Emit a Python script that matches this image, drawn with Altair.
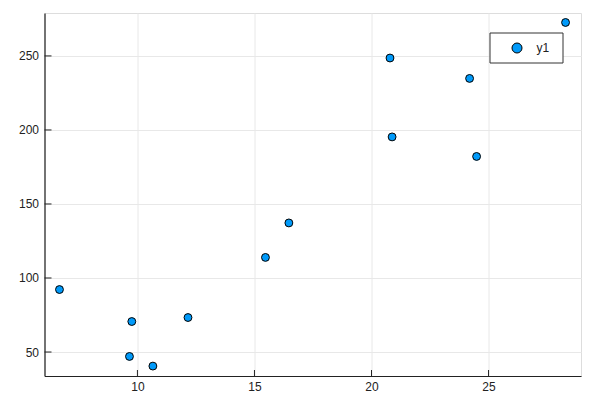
import altair as alt
import pandas as pd

xs = [6.67, 9.76, 9.66, 10.66, 12.16, 15.47, 16.47, 20.79, 20.88, 24.19, 24.49, 28.29]
ys = [92.2, 70.6, 47.0, 40.5, 73.3, 113.9, 137.2, 248.6, 195.3, 234.8, 182.1, 272.6]
series = ["y1"] * len(xs)
x_ticks = [10, 15, 20, 25]
y_ticks = [50, 100, 150, 200, 250]

W, H = 536.5, 363
XD = [6.03, 28.95]
YD = [33.8, 279.0]
FONT = "Liberation Sans"
BLUE = "#009AFA"

df = pd.DataFrame({"x": xs, "y": ys, "s": series})
xt = pd.DataFrame({"v": x_ticks})
yt = pd.DataFrame({"v": y_ticks})
leg = pd.DataFrame({"s": ["y1"]})

xscale = alt.Scale(domain=XD, zero=False, nice=False)
yscale = alt.Scale(domain=YD, zero=False, nice=False)

xaxis = alt.Axis(values=x_ticks, title=None, grid=True, gridColor="#e8e8e8", gridWidth=1,
                 domainColor="#222222", domainWidth=1.2, tickSize=0, labelPadding=5,
                 labelFont=FONT, labelFontSize=12, labelColor="#222222")
yaxis = alt.Axis(values=y_ticks, title=None, grid=True, gridColor="#e8e8e8", gridWidth=1,
                 domainColor="#222222", domainWidth=1.2, tickSize=0, labelPadding=6,
                 labelFont=FONT, labelFontSize=12, labelColor="#222222")

pts = alt.Chart(df).mark_point(filled=True, fill=BLUE, stroke="black", strokeWidth=1,
                               size=62, opacity=1).encode(
    x=alt.X("x:Q", scale=xscale, axis=xaxis),
    y=alt.Y("y:Q", scale=yscale, axis=yaxis),
)

xtick = alt.Chart(xt).mark_rule(color="#222222", strokeWidth=1).encode(
    x=alt.X("v:Q", scale=xscale),
    y=alt.value(H), y2=alt.value(H - 6),
)
ytick = alt.Chart(yt).mark_rule(color="#222222", strokeWidth=1).encode(
    y=alt.Y("v:Q", scale=yscale),
    x=alt.value(0), x2=alt.value(7),
)

box = alt.Chart(leg).mark_rect(fill="white", stroke="#333333", strokeWidth=1).encode(
    x=alt.value(445.5), x2=alt.value(518.5), y=alt.value(20), y2=alt.value(50),
)
lsym = alt.Chart(leg).mark_point(filled=True, fill=BLUE, stroke="black", strokeWidth=1,
                                 size=100, opacity=1).encode(
    x=alt.value(472.5), y=alt.value(35),
)
ltxt = alt.Chart(leg).mark_text(font=FONT, fontSize=12, color="#222222", align="left",
                                baseline="middle").encode(
    x=alt.value(492), y=alt.value(35), text="s:N",
)

chart = alt.layer(pts, xtick, ytick, box, lsym, ltxt).properties(
    width=W, height=H,
    autosize=alt.AutoSizeParams(type="none"),
    padding={"left": 36.5, "top": 5, "right": 10, "bottom": 20},
).configure_view(stroke=None).configure(background="white")

chart.save("out.html", embed_options={"renderer": "svg", "actions": False})
